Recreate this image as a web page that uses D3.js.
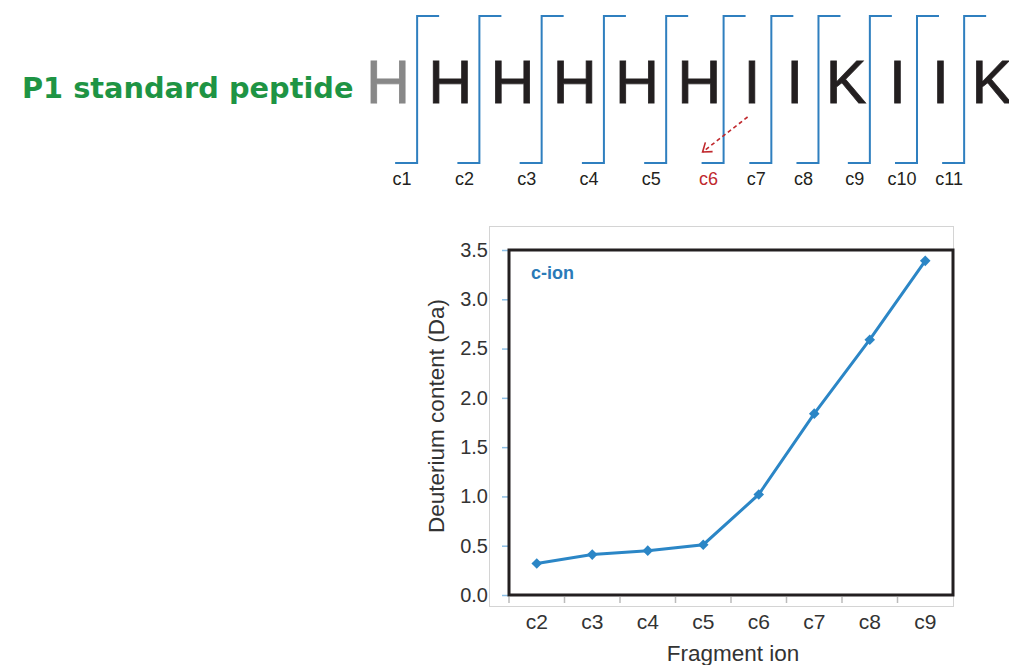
<!DOCTYPE html>
<meta charset="utf-8">
<script src="https://d3js.org/d3.v7.min.js"></script>
<style>
  body { margin: 0; background: #fff; }
  text { font-family: "Liberation Sans", Arial, sans-serif; }
</style>

<div id="my_viz"></div>

<script>

// Peptide sequence and c-fragment cleavage sites
var residues = ["H", "H", "H", "H", "H", "H", "I", "I", "K", "I", "I", "K"];
var fragments = ["c1", "c2", "c3", "c4", "c5", "c6", "c7", "c8", "c9", "c10", "c11"];
var highlighted = "c6";

// Chart data
var ions = ["c2", "c3", "c4", "c5", "c6", "c7", "c8", "c9"];
var deuterium = [0.32, 0.41, 0.45, 0.51, 1.02, 1.84, 2.59, 3.39];
var yTicks = [0, 0.5, 1.0, 1.5, 2.0, 2.5, 3.0, 3.5];

var blue = "#2b86c6",
    red = "#c0282d",
    green = "#1e9444";

var svg = d3.select("#my_viz")
  .append("svg")
    .attr("width", 1009)
    .attr("height", 665);

// Title
svg.append("text")
  .attr("x", 22)
  .attr("y", 98)
  .style("font-family", "'DejaVu Sans', Verdana, sans-serif")
  .style("font-weight", "bold")
  .style("font-size", "28.8px")
  .style("fill", green)
  .text("P1 standard peptide");

// Residue letters, spaced by their own widths
var letters = svg.append("g").selectAll("text")
  .data(residues)
  .enter()
  .append("text")
    .attr("y", 103)
    .attr("text-anchor", "middle")
    .style("font-size", "61px")
    .style("fill", function (d, i) { return i == 0 ? "#888888" : "#231f20"; })
    .style("stroke", function (d, i) { return i == 0 ? "#888888" : "#231f20"; })
    .style("stroke-width", 0.8)
    .text(function (d) { return d; });

var widths = [];
letters.each(function () { widths.push(this.getComputedTextLength()); });
var centers = [388];
for (var i = 1; i < residues.length; i++) {
  centers.push(centers[i - 1] + 0.714 * (widths[i - 1] + widths[i]) / 2 + 30.8);
}
letters.attr("x", function (d, i) { return centers[i]; });

// Cleavage brackets
var cutX = fragments.map(function (d, i) { return (centers[i] + centers[i + 1]) / 2 - 2; });

svg.append("g").selectAll("path")
  .data(fragments)
  .enter()
  .append("path")
    .attr("d", function (d, i) {
      var x = cutX[i];
      return "M" + (x + 22) + ",16H" + x + "V163H" + (x - 22);
    })
    .style("fill", "none")
    .style("stroke", "#2f7fbf")
    .style("stroke-width", 2);

svg.append("g").selectAll("text")
  .data(fragments)
  .enter()
  .append("text")
    .attr("x", function (d, i) { return cutX[i] - 15; })
    .attr("y", 185)
    .attr("text-anchor", "middle")
    .style("font-size", "18px")
    .style("fill", function (d) { return d == highlighted ? red : "#231f20"; })
    .text(function (d) { return d; });

// Dashed arrow pointing to the highlighted site
var hx = cutX[fragments.indexOf(highlighted)];
var a0 = [hx + 24, 117], a1 = [hx - 21, 152];
svg.append("line")
  .attr("x1", a0[0]).attr("y1", a0[1])
  .attr("x2", a1[0]).attr("y2", a1[1])
  .style("stroke", red)
  .style("stroke-width", 1.6)
  .style("stroke-dasharray", "4,3");
var ang = Math.atan2(a1[1] - a0[1], a1[0] - a0[0]);
var head = [ang + Math.PI * 0.8, ang - Math.PI * 0.8].map(function (t) {
  return [a1[0] + 10 * Math.cos(t), a1[1] + 10 * Math.sin(t)];
});
svg.append("path")
  .attr("d", "M" + head[0] + "L" + a1 + "L" + head[1])
  .style("fill", "none")
  .style("stroke", red)
  .style("stroke-width", 1.6);

// Chart
var plot = {left: 509, right: 953, top: 250, bottom: 595};

var x = d3.scaleBand()
  .domain(ions)
  .range([plot.left, plot.right]);

var y = d3.scaleLinear()
  .domain([0, 3.5])
  .range([plot.bottom, plot.top]);

// outer chart area frame
svg.append("rect")
  .attr("x", 489.5)
  .attr("y", 226.5)
  .attr("width", 464)
  .attr("height", 380)
  .style("fill", "none")
  .style("stroke", "#d4d4d4");

// Y axis
var yAxis = svg.append("g")
  .attr("transform", "translate(" + plot.left + ",0)")
  .call(d3.axisLeft(y).tickValues(yTicks).tickSize(7).tickPadding(14).tickFormat(d3.format(".1f")));
yAxis.select(".domain").remove();
yAxis.selectAll("line").style("stroke", "#8ec0e6").style("stroke-width", 1.5);
yAxis.selectAll("text")
  .style("font-size", "20px")
  .style("font-family", "'Liberation Sans', Arial, sans-serif")
  .style("fill", "#333");

// X axis
svg.append("g").selectAll("line")
  .data(ions)
  .enter()
  .append("line")
    .attr("x1", function (d) { return x(d); })
    .attr("x2", function (d) { return x(d); })
    .attr("y1", 597)
    .attr("y2", 603)
    .style("stroke", "#bbbbbb")
    .style("stroke-width", 1.5);

var xAxis = svg.append("g")
  .attr("transform", "translate(0,629)")
  .call(d3.axisBottom(x).tickSize(0));
xAxis.select(".domain").remove();
xAxis.selectAll("text")
  .attr("y", 0)
  .attr("dy", 0)
  .style("font-size", "21px")
  .style("font-family", "'Liberation Sans', Arial, sans-serif")
  .style("fill", "#333");

// plot box
svg.append("rect")
  .attr("x", plot.left)
  .attr("y", plot.top)
  .attr("width", plot.right - plot.left)
  .attr("height", plot.bottom - plot.top)
  .style("fill", "none")
  .style("stroke", "#231f20")
  .style("stroke-width", 3);

// Axis titles
svg.append("text")
  .attr("text-anchor", "middle")
  .attr("transform", "translate(444,416) rotate(-90)")
  .style("font-size", "22.5px")
  .style("fill", "#333")
  .text("Deuterium content (Da)");

svg.append("text")
  .attr("text-anchor", "middle")
  .attr("x", 733)
  .attr("y", 661)
  .style("font-size", "22.5px")
  .style("fill", "#333")
  .text("Fragment ion");

svg.append("text")
  .attr("x", 531)
  .attr("y", 279)
  .style("font-size", "18px")
  .style("font-weight", "bold")
  .style("fill", "#2a7ab8")
  .text("c-ion");

// Series
var points = ions.map(function (d, i) { return {ion: d, value: deuterium[i]}; });

var line = d3.line()
  .x(function (d) { return x(d.ion) + x.bandwidth() / 2; })
  .y(function (d) { return y(d.value); });

svg.append("path")
  .datum(points)
  .attr("d", line)
  .style("fill", "none")
  .style("stroke", blue)
  .style("stroke-width", 3);

svg.append("g").selectAll("path")
  .data(points)
  .enter()
  .append("path")
    .attr("d", d3.symbol(d3.symbolSquare, 56))
    .attr("transform", function (d) {
      return "translate(" + (x(d.ion) + x.bandwidth() / 2) + "," + y(d.value) + ") rotate(45)";
    })
    .style("fill", blue);

</script>
